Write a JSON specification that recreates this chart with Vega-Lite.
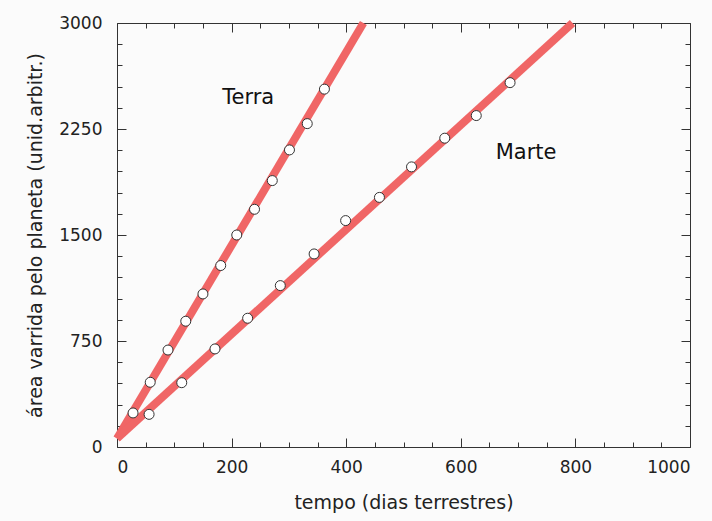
{
  "$schema": "https://vega.github.io/schema/vega-lite/v6.json",
  "width": 573,
  "height": 424,
  "autosize": "none",
  "padding": {"left": 117, "top": 23, "right": 22, "bottom": 74},
  "background": "#fbfbfb",
  "config": {
    "view": {"stroke": "#333333", "strokeWidth": 1},
    "font": "DejaVu Sans",
    "axis": {
      "domain": false,
      "grid": false,
      "tickColor": "#333333",
      "tickWidth": 1,
      "labelColor": "#222222",
      "titleColor": "#222222",
      "labelFont": "DejaVu Sans",
      "titleFont": "DejaVu Sans",
      "labelFontSize": 17,
      "titleFontSize": 19,
      "titleFontWeight": "normal"
    }
  },
  "datasets": {
    "pontos": [
      {"planeta": "Terra", "t": 28, "area": 241},
      {"planeta": "Terra", "t": 58, "area": 458},
      {"planeta": "Terra", "t": 89, "area": 686},
      {"planeta": "Terra", "t": 120, "area": 890},
      {"planeta": "Terra", "t": 150, "area": 1083},
      {"planeta": "Terra", "t": 181, "area": 1284},
      {"planeta": "Terra", "t": 209, "area": 1500},
      {"planeta": "Terra", "t": 240, "area": 1682},
      {"planeta": "Terra", "t": 271, "area": 1885},
      {"planeta": "Terra", "t": 301, "area": 2102},
      {"planeta": "Terra", "t": 332, "area": 2288},
      {"planeta": "Terra", "t": 362, "area": 2532},
      {"planeta": "Marte", "t": 56, "area": 231},
      {"planeta": "Marte", "t": 113, "area": 455},
      {"planeta": "Marte", "t": 171, "area": 694},
      {"planeta": "Marte", "t": 228, "area": 911},
      {"planeta": "Marte", "t": 285, "area": 1142},
      {"planeta": "Marte", "t": 344, "area": 1366},
      {"planeta": "Marte", "t": 399, "area": 1602},
      {"planeta": "Marte", "t": 458, "area": 1766},
      {"planeta": "Marte", "t": 514, "area": 1982},
      {"planeta": "Marte", "t": 572, "area": 2185},
      {"planeta": "Marte", "t": 627, "area": 2345},
      {"planeta": "Marte", "t": 686, "area": 2578}
    ],
    "linhas": [
      {"planeta": "Terra", "t": 0, "area": 60},
      {"planeta": "Terra", "t": 430, "area": 3000},
      {"planeta": "Marte", "t": 0, "area": 60},
      {"planeta": "Marte", "t": 795, "area": 3000}
    ],
    "rotulos": [
      {"nome": "Terra", "t": 229, "area": 2470},
      {"nome": "Marte", "t": 714, "area": 2081}
    ]
  },
  "layer": [
    {
      "data": {"name": "linhas"},
      "transform": [{"filter": "datum.planeta === 'Terra'"}],
      "mark": {"type": "line", "color": "#f06666", "strokeWidth": 8, "strokeCap": "butt"},
      "encoding": {
        "x": {"field": "t", "type": "quantitative", "scale": {"domain": [0, 1000], "nice": false},
          "axis": {"orient": "bottom", "values": [0, 200, 400, 600, 800, 1000], "format": "d", "ticks": false, "labelPadding": 12, "title": "tempo (dias terrestres)", "titlePadding": 18}},
        "y": {"field": "area", "type": "quantitative", "scale": {"domain": [0, 3000], "nice": false},
          "axis": {"orient": "left", "values": [0, 750, 1500, 2250, 3000], "format": "d", "ticks": false, "labelPadding": 15, "title": "área varrida pelo planeta (unid.arbitr.)", "titlePadding": 13}}
      }
    },
    {
      "data": {"name": "linhas"},
      "transform": [{"filter": "datum.planeta === 'Marte'"}],
      "mark": {"type": "line", "color": "#f06666", "strokeWidth": 8, "strokeCap": "butt"},
      "encoding": {
        "x": {"field": "t", "type": "quantitative", "scale": {"domain": [0, 1000], "nice": false},
          "axis": {"orient": "bottom", "values": [0, 200, 400, 600, 800, 1000], "tickSize": 9, "offset": -9, "labels": false, "title": null}},
        "y": {"field": "area", "type": "quantitative", "scale": {"domain": [0, 3000], "nice": false},
          "axis": {"orient": "left", "values": [0, 750, 1500, 2250, 3000], "tickSize": 9, "offset": -9, "labels": false, "title": null}}
      }
    },
    {
      "data": {"name": "pontos"},
      "transform": [{"filter": "datum.planeta === 'Terra'"}],
      "mark": {"type": "point", "shape": "circle", "filled": true, "fill": "white", "stroke": "#333333", "strokeWidth": 1, "size": 100, "opacity": 1},
      "encoding": {
        "x": {"field": "t", "type": "quantitative", "scale": {"domain": [0, 1000], "nice": false},
          "axis": {"orient": "bottom", "values": [50, 100, 150, 250, 300, 350, 450, 500, 550, 650, 700, 750, 850, 900, 950], "tickSize": 5, "offset": -5, "labels": false, "title": null}},
        "y": {"field": "area", "type": "quantitative", "scale": {"domain": [0, 3000], "nice": false},
          "axis": {"orient": "left", "values": [150, 300, 450, 600, 900, 1050, 1200, 1350, 1650, 1800, 1950, 2100, 2400, 2550, 2700, 2850], "tickSize": 5, "offset": -5, "labels": false, "title": null}}
      }
    },
    {
      "data": {"name": "pontos"},
      "transform": [{"filter": "datum.planeta === 'Marte'"}],
      "mark": {"type": "point", "shape": "circle", "filled": true, "fill": "white", "stroke": "#333333", "strokeWidth": 1, "size": 100, "opacity": 1},
      "encoding": {
        "x": {"field": "t", "type": "quantitative", "scale": {"domain": [0, 1000], "nice": false},
          "axis": {"orient": "top", "values": [0, 200, 400, 600, 800, 1000], "tickSize": 9, "offset": -9, "labels": false, "title": null}},
        "y": {"field": "area", "type": "quantitative", "scale": {"domain": [0, 3000], "nice": false},
          "axis": {"orient": "right", "values": [0, 750, 1500, 2250, 3000], "tickSize": 9, "offset": -9, "labels": false, "title": null}}
      }
    },
    {
      "data": {"name": "rotulos"},
      "mark": {"type": "text", "fontSize": 21, "color": "#111111", "font": "DejaVu Sans"},
      "encoding": {
        "x": {"field": "t", "type": "quantitative", "scale": {"domain": [0, 1000], "nice": false},
          "axis": {"orient": "top", "values": [50, 100, 150, 250, 300, 350, 450, 500, 550, 650, 700, 750, 850, 900, 950], "tickSize": 5, "offset": -5, "labels": false, "title": null}},
        "y": {"field": "area", "type": "quantitative", "scale": {"domain": [0, 3000], "nice": false},
          "axis": {"orient": "right", "values": [150, 300, 450, 600, 900, 1050, 1200, 1350, 1650, 1800, 1950, 2100, 2400, 2550, 2700, 2850], "tickSize": 5, "offset": -5, "labels": false, "title": null}},
        "text": {"field": "nome"}
      }
    }
  ],
  "resolve": {"axis": {"x": "independent", "y": "independent"}}
}
